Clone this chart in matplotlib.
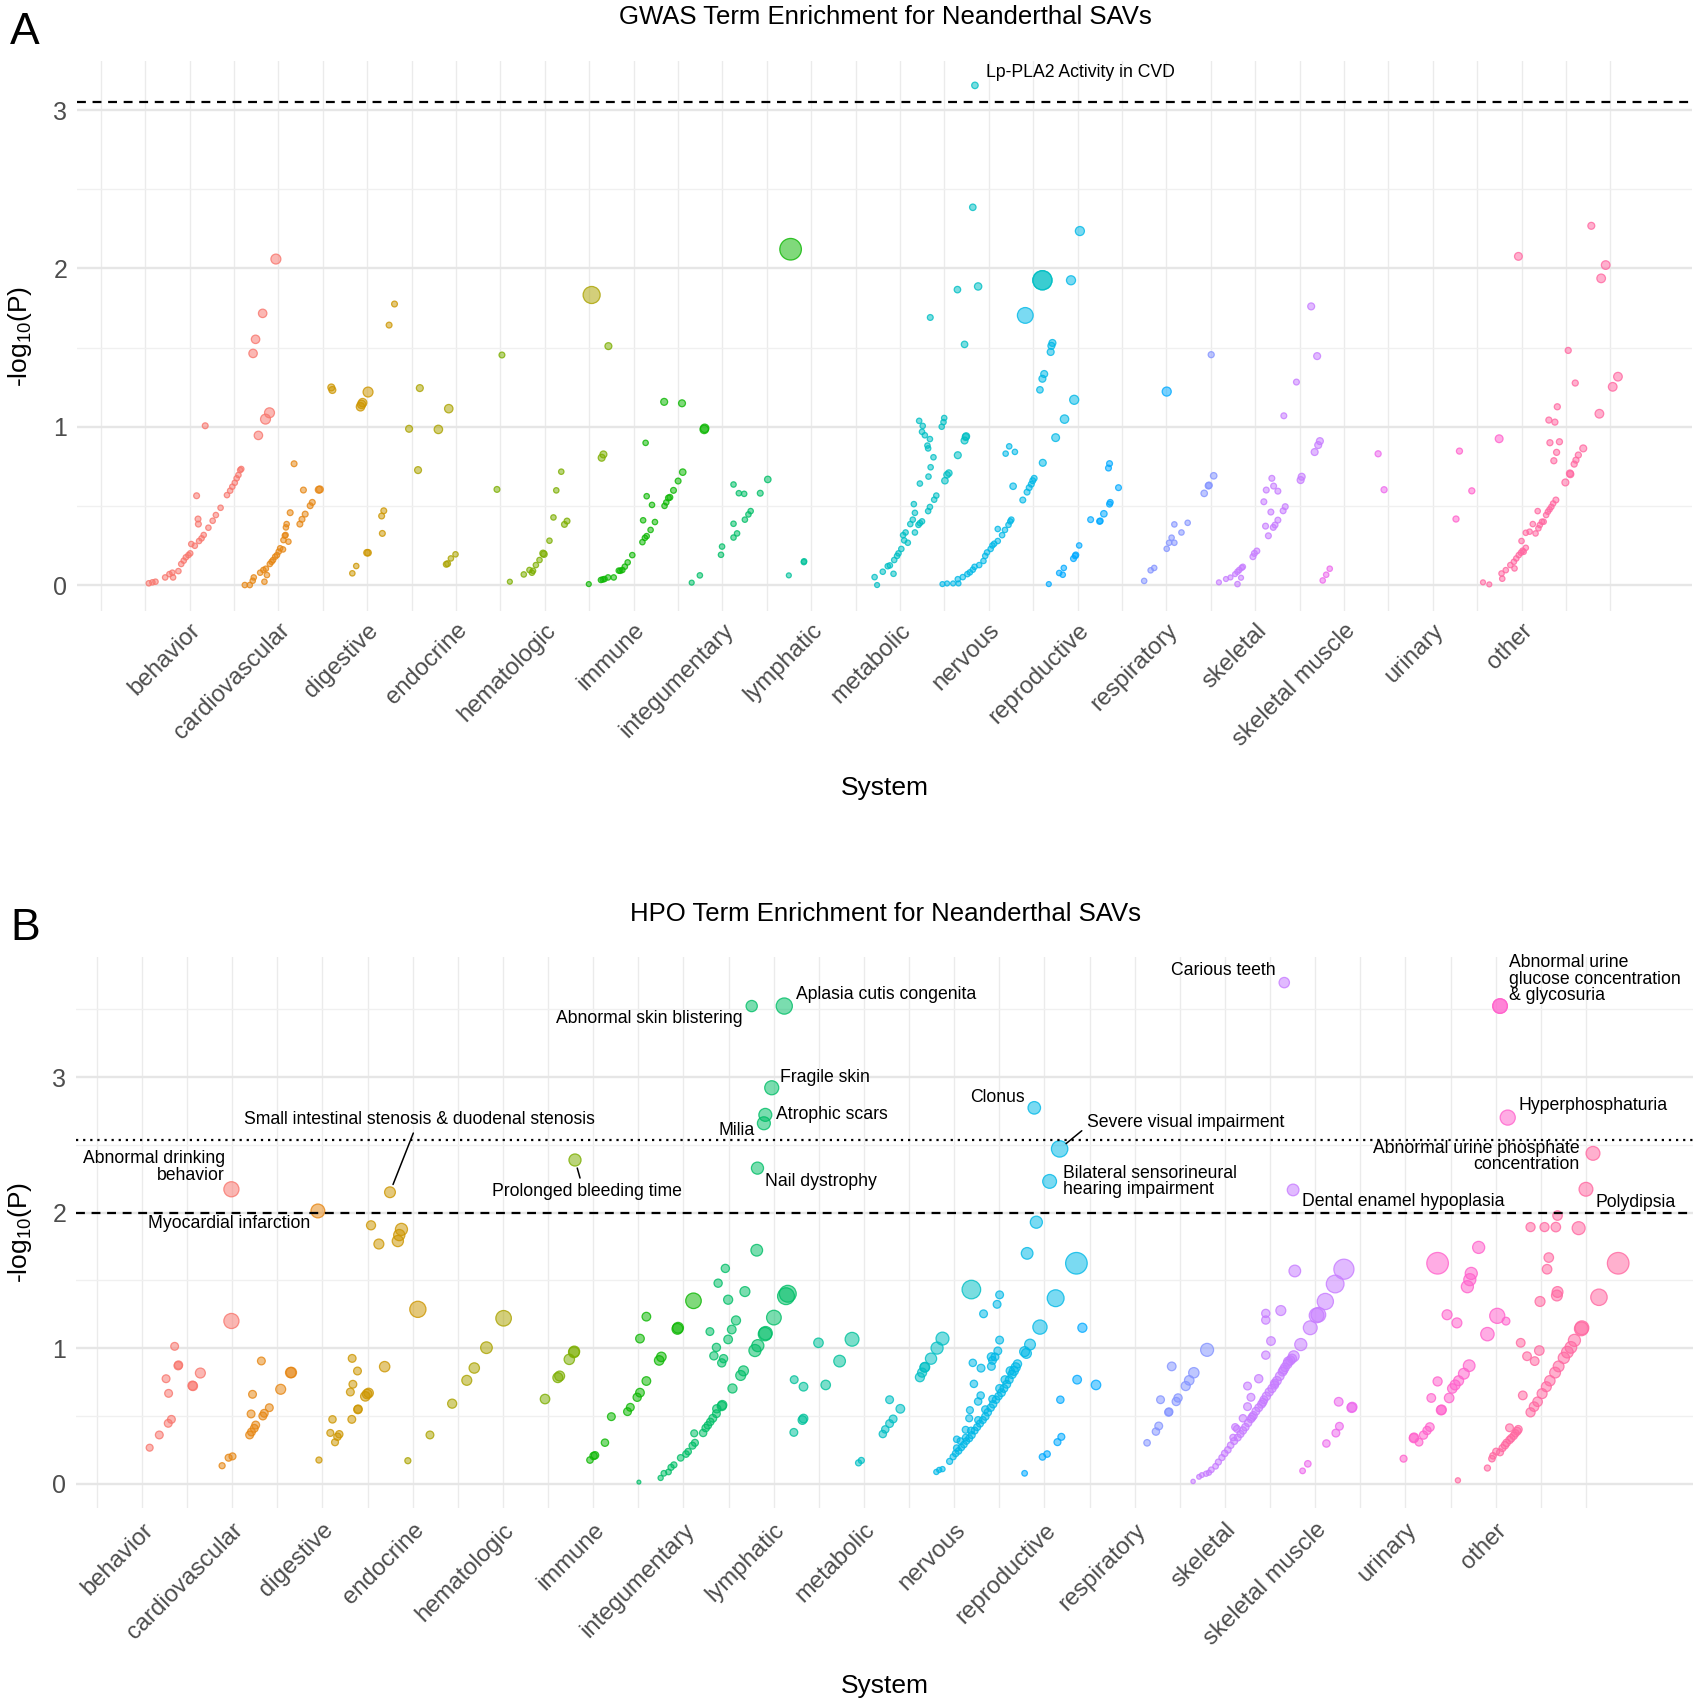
import math
import matplotlib
matplotlib.use("Agg")
import matplotlib.pyplot as plt

plt.rcParams['font.family'] = ['Liberation Sans', 'DejaVu Sans']
plt.rcParams['mathtext.fontset'] = 'custom'
plt.rcParams['mathtext.rm'] = 'Liberation Sans'
plt.rcParams['mathtext.it'] = 'Liberation Sans:italic'

# ---------------- data ----------------
systems = ["behavior", "cardiovascular", "digestive", "endocrine", "hematologic",
           "immune", "integumentary", "lymphatic", "metabolic", "nervous",
           "reproductive", "respiratory", "skeletal", "skeletal muscle",
           "urinary", "other"]

# Panel A (GWAS): (x position, -log10 P, size)
gwas_behavior = [(0.54,0.011,2.5),(0.58,0.017,2.5),(0.615,0.021,2.5),(0.724,0.048,2.5),(0.772,0.069,2.5),(0.805,0.078,2.5),(0.813,0.048,2.5),(0.873,0.088,2.5),(0.905,0.133,2.5),(0.933,0.154,2.5),(0.957,0.175,2.5),(0.986,0.189,2.5),(1.006,0.2,2.5),(1.018,0.259,2.5),(1.058,0.248,2.5),(1.106,0.278,2.5),(1.134,0.295,2.5),(1.158,0.316,2.5),(1.211,0.362,2.5),(1.259,0.406,2.5),(1.295,0.442,2.5),(1.348,0.488,2.5),(1.42,0.568,2.5),(1.456,0.596,2.5),(1.48,0.621,2.5),(1.508,0.646,2.5),(1.529,0.674,2.5),(1.549,0.695,2.5),(1.569,0.726,2.5),(1.581,0.733,2.5),(1.078,0.564,2.7),(1.094,0.417,2.7),(1.098,0.385,2.7),(1.175,1.006,2.7),(1.774,0.945,3.9),(1.714,1.463,3.9),(1.742,1.552,3.9),(1.822,1.716,3.9),(1.854,1.048,4.6),(1.899,1.088,4.6),(1.971,2.059,4.6)]
gwas_cardiovascular = [(1.621,0.0,2.5),(1.677,0.0,2.5),(1.71,0.027,2.5),(1.722,0.048,2.5),(1.794,0.078,2.5),(1.842,0.021,2.5),(1.87,0.063,2.5),(1.83,0.095,2.5),(1.858,0.103,2.5),(1.903,0.133,2.5),(1.923,0.147,2.5),(1.939,0.158,2.5),(1.963,0.179,2.5),(1.983,0.189,2.5),(2.003,0.211,2.5),(2.019,0.232,2.5),(2.051,0.225,2.5),(2.056,0.284,2.5),(2.072,0.312,2.5),(2.08,0.316,2.5),(2.112,0.274,2.5),(2.084,0.364,2.5),(2.092,0.385,2.5),(2.132,0.457,2.7),(2.176,0.766,2.7),(2.241,0.385,2.7),(2.265,0.415,2.7),(2.301,0.448,2.7),(2.281,0.6,2.7),(2.357,0.501,2.7),(2.381,0.522,2.7),(2.454,0.602,3.2),(2.466,0.604,3.2)]
gwas_digestive = [(2.595,1.248,3.2),(2.607,1.232,3.2),(2.924,1.126,3.9),(2.936,1.141,3.9),(2.948,1.152,3.9),(3.009,1.219,4.6),(2.832,0.074,2.5),(2.876,0.12,2.5),(2.997,0.204,3.0),(3.009,0.204,3.0),(3.17,0.326,2.7),(3.162,0.436,2.7),(3.186,0.469,2.7),(3.246,1.642,2.7),(3.307,1.775,2.7)]
gwas_endocrine = [(3.471,0.987,3.2),(3.572,0.726,3.2),(3.592,1.244,3.2),(3.801,0.983,3.9),(3.918,1.114,3.9),(3.89,0.131,2.7),(3.905,0.135,2.7),(3.942,0.168,2.5),(3.994,0.194,2.5),(5.527,1.832,7.9)]
gwas_hematologic = [(4.517,1.453,2.7),(4.461,0.604,2.7),(4.606,0.021,2.3),(4.763,0.067,2.5),(4.827,0.095,2.5),(4.855,0.078,2.5),(4.867,0.09,2.5),(4.899,0.126,2.5),(4.94,0.158,2.5),(4.98,0.2,3.0),(4.99,0.195,3.0),(5.052,0.28,2.5),(5.097,0.427,2.5),(5.129,0.598,2.5),(5.185,0.716,2.5),(5.221,0.383,2.7),(5.25,0.404,2.7),(5.716,1.509,3.2),(5.64,0.804,3.2),(5.66,0.825,3.2)]
gwas_immune = [(5.495,0.006,2.3),(5.632,0.032,2.5),(5.652,0.035,2.5),(5.672,0.038,2.5),(5.712,0.048,2.5),(5.776,0.048,2.5),(5.833,0.091,2.5),(5.85,0.09,2.5),(5.873,0.095,2.5),(5.901,0.116,2.5),(5.933,0.143,2.5),(5.985,0.189,2.5),(6.099,0.271,2.5),(6.127,0.298,2.5),(6.147,0.309,2.5),(6.191,0.348,2.5),(6.24,0.398,2.5),(6.107,0.409,2.5),(6.207,0.506,2.5),(6.348,0.5,2.5),(6.368,0.522,2.5),(6.392,0.55,2.7),(6.408,0.554,2.7),(6.449,0.598,2.7),(6.501,0.657,2.7),(6.553,0.713,3.0),(6.147,0.561,2.5),(6.135,0.898,2.5),(6.344,1.157,3.2),(6.545,1.148,3.2),(6.795,0.983,3.9),(6.8,0.99,3.9),(7.768,2.121,10.0)]
gwas_integumentary = [(6.654,0.015,2.3),(6.746,0.061,2.5),(6.984,0.191,2.5),(6.996,0.243,2.5),(7.125,0.3,2.5),(7.165,0.326,2.5),(7.125,0.387,2.5),(7.253,0.413,2.5),(7.293,0.446,2.5),(7.318,0.467,2.5),(7.125,0.635,2.5),(7.185,0.58,2.5),(7.245,0.576,2.5),(7.426,0.58,2.7),(7.511,0.667,3.0)]
gwas_lymphatic = [(7.748,0.061,2.3),(7.917,0.145,2.5),(7.92,0.15,2.5)]
gwas_metabolic = [(8.714,0.05,2.5),(8.742,0.0,2.3),(8.806,0.084,2.5),(8.862,0.119,2.5),(8.886,0.124,2.5),(8.927,0.071,2.5),(8.935,0.158,2.5),(8.967,0.184,2.5),(8.983,0.2,2.5),(9.015,0.228,2.5),(9.047,0.282,2.5),(9.035,0.315,2.5),(9.063,0.332,2.5),(9.088,0.267,2.5),(9.116,0.385,2.5),(9.144,0.413,2.5),(9.168,0.332,2.5),(9.168,0.456,2.5),(9.156,0.511,2.5),(9.208,0.38,2.5),(9.224,0.391,2.5),(9.248,0.402,2.5),(9.317,0.467,2.5),(9.337,0.493,2.5),(9.385,0.539,2.5),(9.409,0.565,2.5),(9.224,0.641,2.5),(9.321,0.685,2.5),(9.345,0.744,2.5),(9.377,0.807,2.5),(9.317,0.863,2.5),(9.309,0.881,2.5),(9.337,0.922,2.5),(9.28,0.946,2.5),(9.248,0.968,2.5),(9.256,1.005,2.5),(9.216,1.037,2.5),(9.47,1.0,2.5),(9.49,1.029,2.5),(9.498,1.055,2.5),(9.506,0.659,3.0),(9.53,0.696,3.0),(9.55,0.707,3.0),(9.341,1.69,2.7),(9.647,1.866,3.0),(9.727,1.52,3.0),(9.88,1.886,3.4),(9.82,2.386,3.0),(9.844,3.156,3.0),(9.727,0.913,3.2),(9.74,0.935,3.2),(9.745,0.94,3.2),(9.651,0.82,3.2),(10.604,1.925,8.9),(10.604,1.925,8.9)]
gwas_nervous = [(9.478,0.006,2.3),(9.53,0.01,2.3),(9.598,0.01,2.3),(9.659,0.01,2.3),(9.651,0.037,2.5),(9.707,0.05,2.5),(9.759,0.069,2.5),(9.787,0.08,2.5),(9.82,0.097,2.5),(9.84,0.115,2.5),(9.892,0.126,2.5),(9.94,0.152,2.5),(9.96,0.184,2.5),(9.98,0.206,2.5),(10.021,0.228,2.5),(10.041,0.25,2.5),(10.061,0.261,2.5),(10.101,0.278,2.5),(10.15,0.315,2.5),(10.182,0.348,2.5),(10.222,0.38,2.5),(10.242,0.402,2.5),(10.254,0.413,2.5),(10.101,0.354,2.5),(10.274,0.624,3.0),(10.383,0.537,2.7),(10.431,0.587,2.7),(10.455,0.615,2.7),(10.479,0.637,2.7),(10.495,0.659,2.7),(10.511,0.674,2.7),(10.19,0.83,2.5),(10.23,0.876,2.5),(10.294,0.841,2.5),(10.608,0.772,3.2),(10.576,1.233,3.0),(10.604,1.303,3.2),(10.624,1.333,3.2),(10.697,1.472,3.2),(10.705,1.511,3.2),(10.717,1.529,3.2),(10.753,0.931,3.6),(10.853,1.048,3.9),(10.962,1.17,4.2),(10.411,1.703,7.3),(10.926,1.925,4.2),(11.026,2.236,4.2)]
gwas_reproductive = [(10.676,0.006,2.3),(10.793,0.076,2.5),(10.833,0.065,2.5),(10.845,0.108,2.5),(10.954,0.167,2.7),(10.974,0.184,2.7),(10.98,0.19,2.7),(11.018,0.25,2.5),(11.147,0.413,2.7),(11.248,0.402,2.7),(11.255,0.405,2.7),(11.296,0.45,3.0),(11.36,0.511,2.7),(11.368,0.522,2.7),(11.461,0.615,2.7),(11.348,0.739,2.7),(11.36,0.767,2.7),(12.004,1.222,4.2)]
gwas_respiratory = [(11.75,0.026,2.5),(11.823,0.093,2.5),(11.863,0.108,2.5),(12.004,0.229,2.5),(12.031,0.267,2.5),(12.059,0.299,2.5),(12.09,0.267,2.5),(12.09,0.383,2.5),(12.17,0.332,2.5),(12.24,0.393,2.5),(12.426,0.579,3.0),(12.474,0.627,3.0),(12.48,0.63,3.0),(12.533,0.69,3.0),(12.505,1.455,2.8)]
gwas_skeletal = [(12.592,0.017,2.3),(12.671,0.038,2.3),(12.722,0.048,2.3),(12.774,0.069,2.3),(12.801,0.084,2.5),(12.821,0.095,2.5),(12.849,0.109,2.5),(12.861,0.115,2.5),(12.841,0.046,2.3),(12.801,0.006,2.5),(12.975,0.179,2.7),(12.991,0.2,2.7),(13.019,0.215,2.7),(13.098,0.526,2.7),(13.117,0.372,2.7),(13.149,0.311,2.7),(13.177,0.461,2.7),(13.204,0.364,2.7),(13.224,0.379,2.7),(13.256,0.41,2.7),(13.315,0.469,2.7),(13.339,0.495,2.7),(13.125,0.6,2.7),(13.188,0.674,2.7),(13.208,0.625,2.7),(13.256,0.593,2.7),(13.323,1.069,2.7),(13.465,1.282,2.7),(13.512,0.663,3.2),(13.524,0.684,3.2),(13.67,0.84,3.2),(13.71,0.884,3.2),(13.729,0.909,3.2),(13.698,1.446,3.2),(13.631,1.76,3.2)]
gwas_skeletal_muscle = [(13.761,0.029,2.5),(13.8,0.065,2.5),(13.84,0.103,2.5),(14.385,0.829,2.8),(14.452,0.602,2.8)]
gwas_urinary = [(15.262,0.417,2.8),(15.301,0.846,2.8),(15.44,0.595,2.8),(15.748,0.924,3.6)]
gwas_other = [(15.566,0.017,2.3),(15.637,0.004,2.3),(15.783,0.04,2.5),(15.775,0.073,2.5),(15.823,0.094,2.5),(15.874,0.126,2.5),(15.914,0.147,2.5),(15.921,0.105,2.5),(15.941,0.168,2.5),(15.969,0.189,2.5),(15.993,0.204,2.5),(16.012,0.217,2.5),(16.024,0.21,2.5),(16.048,0.235,2.5),(16.0,0.278,2.5),(16.048,0.33,2.5),(16.091,0.337,2.5),(16.127,0.385,2.5),(16.158,0.326,2.5),(16.19,0.358,2.5),(16.206,0.379,2.5),(16.23,0.4,2.5),(16.249,0.4,2.5),(16.277,0.442,2.5),(16.297,0.463,2.5),(16.316,0.478,2.5),(16.336,0.494,2.5),(16.356,0.515,2.5),(16.387,0.537,2.7),(16.182,0.467,2.5),(16.494,0.648,3.2),(16.545,0.705,3.2),(16.55,0.70,3.2),(16.593,0.764,2.8),(16.613,0.789,2.8),(16.64,0.821,2.8),(16.695,0.863,3.2),(16.364,0.785,2.8),(16.395,0.838,2.8),(16.32,0.899,2.8),(16.427,0.905,2.8),(16.308,1.042,2.8),(16.376,1.029,2.8),(16.403,1.126,2.8),(16.605,1.276,2.8),(16.526,1.482,2.8),(15.965,2.076,3.6),(16.877,1.082,4.0),(17.027,1.252,4.0),(17.086,1.316,4.0),(16.897,1.937,4.0),(16.948,2.021,4.0),(16.786,2.269,3.2)]

# Panel B (HPO)
hpo_behavior = [(1.085,0.265,3.2),(1.192,0.359,3.6),(1.291,0.445,3.6),(1.326,0.474,3.6),(1.295,0.666,3.6),(1.267,0.774,3.6),(1.362,1.013,3.6),(1.401,0.87,3.8),(1.405,0.875,3.8),(1.56,0.723,4.2),(1.565,0.72,4.2),(1.647,0.816,4.6),(1.991,1.2,7.0),(1.991,2.172,7.0)]
hpo_cardiovascular = [(1.888,0.132,2.8),(1.96,0.191,3.2),(2.003,0.201,3.2),(2.193,0.359,3.6),(2.213,0.381,3.6),(2.244,0.408,3.6),(2.26,0.432,3.6),(2.209,0.514,3.6),(2.225,0.659,3.6),(2.339,0.499,3.6),(2.355,0.519,3.6),(2.411,0.56,3.6),(2.323,0.905,3.6),(2.537,0.696,4.6),(2.648,0.819,4.8),(2.655,0.82,4.8),(2.949,2.012,6.4)]
hpo_digestive = [(2.961,0.174,2.8),(3.087,0.374,3.2),(3.139,0.305,3.2),(3.166,0.346,3.4),(3.186,0.364,3.4),(3.111,0.474,3.4),(3.325,0.474,3.6),(3.309,0.676,3.6),(3.337,0.733,3.6),(3.329,0.924,3.6),(3.388,0.831,3.6),(3.392,0.546,3.8),(3.395,0.55,3.8),(3.475,0.644,4.4),(3.495,0.661,4.4),(3.511,0.669,4.4),(3.689,0.863,4.8),(3.538,1.906,4.2),(3.625,1.768,4.6),(3.835,1.79,5.2),(3.851,1.834,5.2),(3.875,1.876,5.6),(3.748,2.15,5.0),(4.057,1.286,7.5)]
hpo_endocrine = [(3.946,0.169,2.8),(4.191,0.359,3.6),(4.437,0.59,4.2),(4.599,0.762,4.6),(4.682,0.853,4.8),(4.817,1.003,5.4),(5.007,1.22,7.2)]
hpo_hematologic = [(5.466,0.624,4.4),(5.608,0.782,4.6),(5.628,0.794,4.6),(5.735,0.917,4.8),(5.786,0.969,5.0),(5.79,0.975,5.0),(5.798,2.388,5.6)]
hpo_immune = [(5.964,0.174,3.0),(6.004,0.204,3.4),(6.02,0.209,3.4),(6.13,0.302,3.4),(6.201,0.494,3.6),(6.38,0.531,3.6),(6.411,0.563,3.6),(6.487,0.637,3.8),(6.518,0.671,4.0),(6.589,0.757,4.0),(6.518,1.07,4.0),(6.589,1.232,4.0),(6.731,0.909,4.4),(6.755,0.935,4.4),(6.933,1.142,5.0),(6.94,1.15,5.0),(7.111,1.349,7.2)]
hpo_integumentary = [(6.506,0.011,1.8),(6.747,0.042,2.4),(6.783,0.076,2.6),(6.834,0.086,2.6),(6.862,0.12,2.8),(6.894,0.138,2.8),(6.969,0.19,3.0),(7.028,0.218,3.0),(7.052,0.236,3.0),(7.1,0.28,3.2),(7.127,0.301,3.2),(7.119,0.371,3.2),(7.218,0.374,3.4),(7.246,0.41,3.4),(7.27,0.43,3.4),(7.297,0.456,3.4),(7.325,0.482,3.6),(7.365,0.516,3.6),(7.369,0.552,3.8),(7.424,0.572,4.2),(7.43,0.58,4.2),(7.543,0.702,4.2),(7.634,0.798,4.6),(7.665,0.832,4.6),(7.424,0.891,3.8),(7.444,0.922,3.8),(7.337,0.943,3.8),(7.365,1.005,3.8),(7.495,1.064,4.0),(7.535,1.137,4.0),(7.582,1.204,4.2),(7.293,1.122,3.6),(7.495,1.357,4.2),(7.384,1.479,3.8),(7.464,1.588,3.8),(7.681,1.417,4.6),(7.812,1.722,5.4),(7.792,0.982,5.6),(7.824,1.018,5.6),(7.903,1.103,6.2),(7.91,1.11,6.2),(8.002,1.225,6.8),(8.136,1.383,7.8),(8.156,1.401,7.8),(7.756,3.524,5.2),(8.117,3.524,7.5),(7.978,2.921,6.5),(7.907,2.721,6.0),(7.891,2.659,6.0),(7.82,2.328,5.6)]
hpo_lymphatic = [(8.223,0.378,3.6),(8.318,0.469,4.0),(8.33,0.48,4.0),(8.227,0.767,3.6),(8.33,0.715,4.0),(8.576,0.728,4.4),(8.496,1.039,4.4),(8.73,0.904,5.4),(8.868,1.065,6.4)]
hpo_metabolic = [(8.94,0.153,2.8),(8.971,0.171,2.8),(9.209,0.366,3.4),(9.236,0.4,3.4),(9.284,0.443,3.6),(9.323,0.477,3.6),(9.284,0.619,3.6),(9.403,0.552,4.0),(9.62,0.785,4.2),(9.644,0.819,4.2),(9.672,0.857,4.4),(9.676,0.86,4.4),(9.743,0.922,5.2),(9.81,1.0,5.6),(9.87,1.07,6.0),(10.19,1.432,8.6)]
hpo_nervous = [(9.802,0.086,2.4),(9.834,0.101,2.4),(9.87,0.107,2.4),(9.949,0.164,2.8),(9.988,0.198,2.8),(10.016,0.223,3.0),(10.048,0.241,3.0),(10.079,0.267,3.0),(10.107,0.288,3.0),(10.135,0.314,3.0),(10.166,0.334,3.2),(10.194,0.358,3.2),(10.226,0.391,3.2),(10.254,0.417,3.2),(10.285,0.443,3.2),(10.317,0.469,3.2),(10.345,0.495,3.4),(10.372,0.526,3.4),(10.404,0.56,3.4),(10.431,0.586,3.4),(10.463,0.619,3.4),(10.491,0.645,3.4),(10.523,0.671,3.6),(10.55,0.702,3.6),(10.582,0.733,3.6),(10.61,0.767,3.6),(10.641,0.806,3.8),(10.701,0.883,3.8),(10.028,0.262,3.0),(10.068,0.314,3.0),(10.127,0.34,3.0),(10.186,0.391,3.2),(10.265,0.469,3.2),(10.345,0.547,3.4),(10.424,0.624,3.4),(10.503,0.702,3.6),(10.562,0.767,3.6),(10.621,0.832,3.8),(10.028,0.327,3.0),(10.127,0.397,3.2),(10.166,0.482,3.2),(10.174,0.542,3.2),(10.218,0.736,3.4),(10.265,0.606,3.4),(10.293,0.65,3.4),(10.206,0.891,3.4),(10.297,0.852,3.6),(10.412,0.865,3.6),(10.424,0.909,3.6),(10.412,0.935,3.8),(10.451,0.935,3.6),(10.483,0.979,3.6),(10.503,1.059,3.6),(10.325,1.253,3.6),(10.475,1.323,3.6),(10.503,1.393,3.6),(10.681,0.858,4.2),(10.661,0.832,4.2),(10.8,0.961,4.6),(10.78,0.974,4.6),(10.84,1.026,5.0),(10.95,1.155,6.6),(11.124,1.368,7.8),(11.354,1.626,10.0),(10.808,1.699,5.4),(10.91,1.929,5.6),(10.887,2.773,5.8),(11.168,2.47,7.6),(11.057,2.23,6.4)]
hpo_reproductive = [(10.78,0.076,2.6),(10.978,0.197,3.0),(11.029,0.218,3.0),(11.144,0.306,3.2),(11.187,0.345,3.2),(11.176,0.619,3.4),(11.362,0.767,4.0),(11.571,0.728,4.4),(11.42,1.15,4.2)]
hpo_respiratory = [(12.137,0.301,3.0),(12.235,0.384,3.4),(12.266,0.425,3.6),(12.375,0.526,3.6),(12.38,0.53,3.6),(12.286,0.619,3.6),(12.46,0.606,3.8),(12.48,0.632,3.8),(12.41,0.865,4.0),(12.565,0.72,4.2),(12.604,0.762,4.4),(12.655,0.818,4.8),(12.802,0.987,6.0)]
hpo_skeletal = [(12.647,0.016,2.0),(12.713,0.05,2.2),(12.744,0.063,2.2),(12.791,0.073,2.4),(12.822,0.081,2.4),(12.849,0.102,2.6),(12.896,0.128,2.6),(12.927,0.159,2.8),(12.966,0.192,2.8),(12.997,0.223,3.0),(13.032,0.249,3.0),(13.063,0.283,3.0),(13.102,0.314,3.2),(13.141,0.34,3.2),(13.172,0.366,3.2),(13.199,0.392,3.4),(13.226,0.417,3.4),(13.257,0.448,3.4),(13.288,0.477,3.4),(13.315,0.503,3.6),(13.343,0.534,3.6),(13.374,0.56,3.6),(13.405,0.586,3.6),(13.432,0.619,3.6),(13.459,0.645,3.8),(13.49,0.676,3.8),(13.521,0.702,3.8),(13.549,0.728,3.8),(13.576,0.759,4.0),(13.607,0.793,4.0),(13.638,0.826,4.0),(13.665,0.858,4.0),(13.692,0.883,4.2),(13.724,0.909,4.2),(13.743,0.922,4.2),(13.3,0.49,3.6),(13.42,0.6,3.6),(13.55,0.74,3.8),(13.65,0.84,4.0),(13.7,0.9,4.2),(13.09,0.34,3.0),(13.113,0.417,3.2),(13.133,0.404,3.2),(13.199,0.482,3.4),(13.25,0.568,3.6),(13.288,0.637,3.6),(13.25,0.72,3.6),(13.374,0.774,3.8),(13.452,0.948,3.8),(13.51,1.052,4.0),(13.452,1.256,3.8),(13.452,1.207,3.8),(13.619,1.277,4.6),(13.774,1.569,5.4),(13.755,2.167,5.4),(13.657,3.697,4.8),(13.762,0.94,5.0),(13.84,1.026,5.6),(13.945,1.15,6.4),(14.015,1.241,6.8),(14.035,1.246,6.8),(14.112,1.344,7.5),(14.221,1.473,8.2),(14.318,1.582,9.3)]
hpo_skeletal_muscle = [(13.86,0.094,2.6),(13.918,0.146,3.0),(14.124,0.296,3.4),(14.229,0.373,3.6),(14.268,0.423,3.6),(14.26,0.604,4.0),(14.404,0.56,4.4),(14.41,0.565,4.4)]
hpo_urinary = [(14.979,0.184,3.2),(15.092,0.335,4.2),(15.095,0.34,4.2),(15.15,0.306,3.6),(15.2,0.358,3.8),(15.239,0.392,3.8),(15.27,0.417,4.0),(15.286,0.632,4.0),(15.356,0.754,4.2),(15.395,0.542,4.4),(15.40,0.545,4.4),(15.484,0.632,4.4),(15.519,0.702,4.4),(15.55,0.728,4.6),(15.589,0.759,4.6),(15.647,0.811,5.0),(15.706,0.87,5.4),(15.461,1.246,4.6),(15.57,1.186,4.6),(15.356,1.626,10.0),(15.686,1.453,5.6),(15.713,1.505,5.6),(15.729,1.551,5.6),(15.811,1.743,5.6),(15.908,1.103,6.2),(16.017,1.238,7.0),(16.114,1.199,3.6),(16.048,3.524,6.8),(16.048,3.524,6.8),(16.133,2.701,7.0)]
hpo_other = [(15.581,0.024,2.4),(15.908,0.115,2.8),(15.958,0.184,3.0),(15.97,0.205,3.0),(16.005,0.236,3.2),(16.048,0.231,3.2),(16.075,0.262,3.2),(16.102,0.283,3.4),(16.121,0.301,3.4),(16.153,0.322,3.4),(16.172,0.335,3.4),(16.199,0.353,3.4),(16.218,0.371,3.4),(16.238,0.387,3.6),(16.25,0.4,3.6),(16.153,0.412,3.6),(16.3,0.651,4.0),(16.386,0.526,4.2),(16.425,0.568,4.4),(16.464,0.604,4.4),(16.514,0.664,4.6),(16.561,0.715,4.6),(16.6,0.759,4.8),(16.658,0.819,5.0),(16.697,0.865,5.0),(16.755,0.928,5.2),(16.794,0.97,5.4),(16.833,1.005,5.4),(16.872,1.057,5.6),(16.949,1.142,6.4),(16.955,1.15,6.4),(16.277,1.039,4.0),(16.347,0.94,4.0),(16.432,0.904,4.0),(16.483,0.982,4.4),(16.491,1.344,4.6),(16.678,1.388,5.0),(16.685,1.414,5.0),(16.569,1.582,4.4),(16.588,1.668,4.4),(16.386,1.893,4.2),(16.541,1.893,4.2),(16.666,1.893,4.4),(16.685,1.978,4.4),(16.919,1.885,6.0),(17.144,1.375,7.6),(17.357,1.626,10.0),(17.0,2.172,6.4),(17.078,2.437,6.4)]

gwas_groups = [gwas_behavior, gwas_cardiovascular, gwas_digestive, gwas_endocrine, gwas_hematologic,
               gwas_immune, gwas_integumentary, gwas_lymphatic, gwas_metabolic, gwas_nervous,
               gwas_reproductive, gwas_respiratory, gwas_skeletal, gwas_skeletal_muscle,
               gwas_urinary, gwas_other]
hpo_groups = [hpo_behavior, hpo_cardiovascular, hpo_digestive, hpo_endocrine, hpo_hematologic,
              hpo_immune, hpo_integumentary, hpo_lymphatic, hpo_metabolic, hpo_nervous,
              hpo_reproductive, hpo_respiratory, hpo_skeletal, hpo_skeletal_muscle,
              hpo_urinary, hpo_other]

gwas_threshold = 3.05
hpo_threshold_dashed = 2.0
hpo_threshold_dotted = 2.537

gwas_labels = ["Lp-PLA2 Activity in CVD"]
gwas_label_points = [(9.844, 3.156)]
gwas_label_pos = [(9.964, 3.236, "left")]

hpo_labels = ["Abnormal drinking\nbehavior", "Myocardial infarction",
              "Small intestinal stenosis & duodenal stenosis", "Prolonged bleeding time",
              "Abnormal skin blistering", "Aplasia cutis congenita", "Fragile skin",
              "Atrophic scars", "Milia", "Nail dystrophy", "Clonus",
              "Severe visual impairment", "Bilateral sensorineural\nhearing impairment",
              "Carious teeth", "Dental enamel hypoplasia",
              "Abnormal urine\nglucose concentration\n& glycosuria", "Hyperphosphaturia",
              "Abnormal urine phosphate\nconcentration", "Polydipsia"]
hpo_label_points = [(1.991, 2.172), (2.949, 2.012), (3.748, 2.15), (5.798, 2.388),
                    (7.756, 3.524), (8.117, 3.524), (7.978, 2.921), (7.907, 2.721),
                    (7.891, 2.659), (7.82, 2.328), (10.887, 2.773), (11.168, 2.47),
                    (11.057, 2.23), (13.657, 3.697), (13.755, 2.167), (16.048, 3.524),
                    (16.133, 2.701), (17.078, 2.437), (17.0, 2.172)]
hpo_label_pos = [(1.916, 2.336, "right"), (2.867, 1.92, "right"), (4.069, 2.689, "center"),
                 (5.934, 2.152, "center"), (7.655, 3.434, "right"), (8.243, 3.61, "left"),
                 (8.075, 3.0, "left"), (8.027, 2.721, "left"), (7.787, 2.609, "right"),
                 (7.906, 2.232, "left"), (10.782, 2.849, "right"), (11.468, 2.665, "left"),
                 (11.202, 2.228, "left"), (13.561, 3.787, "right"), (13.849, 2.08, "left"),
                 (16.146, 3.722, "left"), (16.256, 2.793, "left"), (16.929, 2.413, "right"),
                 (17.109, 2.072, "left")]
# where the connector leaves the label box (None = no connector)
hpo_label_relpos = [None, None, (0.49, 0.0), (0.47, 1.0), None, None, None, None, None, None,
                    None, (0.0, 0.25), None, None, None, None, None, None, None]


# ---------------- colours (ggplot2 hue palette) ----------------
def hcl_hex(h, c=100.0, l=65.0):
    Xn, Yn, Zn = 95.047, 100.0, 108.883
    den = Xn + 15 * Yn + 3 * Zn
    un, vn = 4 * Xn / den, 9 * Yn / den
    U = c * math.cos(math.radians(h))
    V = c * math.sin(math.radians(h))
    Y = Yn * ((l + 16) / 116) ** 3
    u = U / (13 * l) + un
    v = V / (13 * l) + vn
    X = 9.0 * Y * u / (4 * v)
    Z = -X / 3 - 5 * Y + 3 * Y / v
    X, Y, Z = X / 100, Y / 100, Z / 100
    r = 3.240479 * X - 1.537150 * Y - 0.498535 * Z
    g = -0.969256 * X + 1.875992 * Y + 0.041556 * Z
    b = 0.055648 * X - 0.204043 * Y + 1.057311 * Z

    def gam(t):
        t = 12.92 * t if t <= 0.0031308 else 1.055 * (t ** (1 / 2.4)) - 0.055
        return min(1.0, max(0.0, t))
    return (gam(r), gam(g), gam(b))


n = len(systems)
palette = [hcl_hex(15 + 360.0 * i / n) for i in range(n)]

# ---------------- figure ----------------
W, H = 1700, 1702
fig = plt.figure(figsize=(W / 100, H / 100), dpi=100)

axA = fig.add_axes([77 / W, 1 - 611 / H, (1692 - 77) / W, 550 / H])
axB = fig.add_axes([76 / W, 1 - 1508 / H, (1693 - 76) / W, 551 / H])


def radius_to_area(r):
    return (1.44 * 1.08 * r) ** 2


def setup(ax, xlim, ylim, vgrid_start, hminor, xpad):
    ax.set_xlim(*xlim)
    ax.set_ylim(*ylim)
    for s in ax.spines.values():
        s.set_visible(False)
    v = vgrid_start
    while v <= 17.0001:
        ax.axvline(v, color='#EBEBEB', lw=1.0, zorder=0)
        v += 0.5
    for yv in [0, 1, 2, 3]:
        ax.axhline(yv, color='#E6E6E6', lw=1.7, zorder=0)
    for yv in hminor:
        ax.axhline(yv, color='#F0F0F0', lw=1.0, zorder=0)
    ax.set_yticks([0, 1, 2, 3])
    ax.set_yticklabels(['0', '1', '2', '3'], fontsize=18, color='#4D4D4D')
    ax.set_xticks(range(1, n + 1))
    ax.set_xticklabels(systems, fontsize=17.2, color='#4D4D4D', rotation=45,
                       ha='right', va='top', rotation_mode='anchor')
    ax.tick_params(axis='both', length=0)
    ax.tick_params(axis='y', pad=7)
    ax.tick_params(axis='x', pad=xpad)


def draw_points(ax, groups):
    for i, grp in enumerate(groups):
        xs = [p[0] for p in grp]
        ys = [p[1] for p in grp]
        ss = [radius_to_area(p[2]) for p in grp]
        col = palette[i]
        ax.scatter(xs, ys, s=ss, facecolor=(*col, 0.52), edgecolor=(*col, 0.8),
                   linewidth=0.9, zorder=3)


setup(axA, (-0.269, 17.92), (-0.164, 3.31), 0.0, [0.5, 1.5, 2.5], 6)
setup(axB, (0.269, 18.186), (-0.18, 3.886), 0.5, [0.5, 1.5, 2.5, 3.5], 8)

draw_points(axA, gwas_groups)
draw_points(axB, hpo_groups)

axA.axhline(gwas_threshold, color='black', lw=1.6, ls=(0, (4, 3)), zorder=4)
axB.axhline(hpo_threshold_dashed, color='black', lw=1.6, ls=(0, (4, 3)), zorder=4)
axB.axhline(hpo_threshold_dotted, color='black', lw=1.6, ls=(0, (1, 2.2)), zorder=4)

label_fs = 12.7
for txt, (tx, ty, ha) in zip(gwas_labels, gwas_label_pos):
    axA.text(tx, ty, txt, ha=ha, va='center', fontsize=label_fs, zorder=5)

for txt, pt, (tx, ty, ha), rel in zip(hpo_labels, hpo_label_points, hpo_label_pos,
                                       hpo_label_relpos):
    if rel is not None:
        axB.annotate(txt, xy=pt, xytext=(tx, ty), ha=ha, va='center',
                     fontsize=label_fs, multialignment=ha, linespacing=0.95,
                     arrowprops=dict(arrowstyle='-', color='black', lw=1.1,
                                     shrinkA=2, shrinkB=6, relpos=rel), zorder=5)
    else:
        axB.text(tx, ty, txt, ha=ha, va='center', fontsize=label_fs,
                 multialignment=ha, linespacing=0.95, zorder=5)

# titles and axis titles
fig.text(885 / W, 1 - 17 / H, "GWAS Term Enrichment for Neanderthal SAVs",
         ha='center', va='center', fontsize=18.5)
fig.text(885 / W, 1 - 914 / H, "HPO Term Enrichment for Neanderthal SAVs",
         ha='center', va='center', fontsize=18.5)
fig.text(885 / W, 1 - 788 / H, "System", ha='center', va='center', fontsize=19)
fig.text(885 / W, 1 - 1686 / H, "System", ha='center', va='center', fontsize=19)
fig.text(20 / W, 1 - 336 / H, "-log$_{10}$(P)", ha='center', va='center',
         rotation=90, fontsize=19)
fig.text(20 / W, 1 - 1232 / H, "-log$_{10}$(P)", ha='center', va='center',
         rotation=90, fontsize=19)
fig.text(25 / W, 1 - 33 / H, "A", ha='center', va='center', fontsize=32)
fig.text(25 / W, 1 - 929 / H, "B", ha='center', va='center', fontsize=32)

fig.savefig("out.png", dpi=100, facecolor='white')
